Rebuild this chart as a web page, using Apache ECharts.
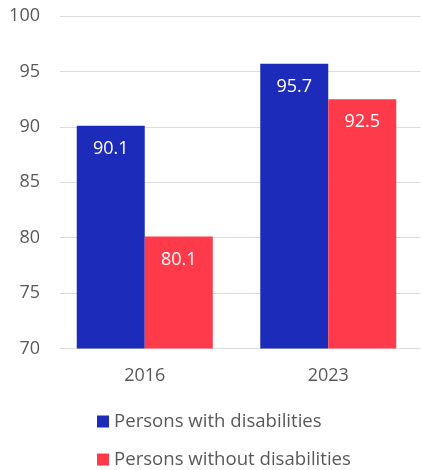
<!DOCTYPE html>
<html>
<head>
<meta charset="utf-8">
<script src="https://cdn.jsdelivr.net/npm/echarts@6/dist/echarts.min.js"></script>
<style>
  html, body { margin: 0; padding: 0; background: #ffffff; }
  #chart { width: 421px; height: 470px; }
</style>
</head>
<body>
<div id="chart"></div>
<script>
// Chart data
const years = ['2016', '2023'];
const withDisabilities = [90.1, 95.7];
const withoutDisabilities = [80.1, 92.5];
const seriesNames = ['Persons with disabilities', 'Persons without disabilities'];
const yTicks = [70, 75, 80, 85, 90, 95, 100];

const FONT = '"Open Sans", "Noto Sans", sans-serif';
const TEXT = '#595959';
const BLUE = '#1d2bba';
const RED = '#ff3b4b';
const FS = 18;

const chart = echarts.init(document.getElementById('chart'), null, { renderer: 'canvas' });

const barLabel = {
  show: true,
  position: 'insideTop',
  distance: 14,
  color: '#ffffff',
  fontFamily: FONT,
  fontSize: FS,
  formatter: p => p.value.toFixed(1)
};

// one legend row per series, stacked vertically
const legendRow = (name, top) => ({
  left: 97,
  top: top,
  itemWidth: 12,
  itemHeight: 12,
  itemGap: 5,
  icon: 'rect',
  padding: 0,
  textStyle: { color: TEXT, fontFamily: FONT, fontSize: 18.6, padding: [0, 0, 0, 0] },
  data: [name]
});

chart.setOption({
  animation: false,
  backgroundColor: '#ffffff',
  grid: [
    // bars
    { left: 53, right: 1, top: 16, bottom: 121.5 },
    // gridlines and value labels
    { left: 60, right: 1, top: 16, bottom: 121.5 }
  ],
  legend: [
    legendRow(seriesNames[0], 412),
    legendRow(seriesNames[1], 450)
  ],
  xAxis: [
    {
      gridIndex: 0,
      type: 'category',
      data: years,
      axisLine: { show: false },
      axisTick: { show: false },
      axisLabel: { color: TEXT, fontFamily: FONT, fontSize: FS, margin: 18 }
    },
    {
      gridIndex: 1,
      type: 'category',
      data: years,
      show: false
    }
  ],
  yAxis: [
    {
      gridIndex: 0,
      type: 'value',
      min: 70, max: 100, interval: 5,
      show: false
    },
    {
      gridIndex: 1,
      type: 'value',
      min: yTicks[0], max: yTicks[yTicks.length - 1], interval: 5,
      axisLine: { show: false },
      axisTick: { show: false },
      splitLine: { show: true, lineStyle: { color: '#dcdcdc', width: 1 } },
      axisLabel: { color: TEXT, fontFamily: FONT, fontSize: FS, margin: 20 }
    }
  ],
  series: [
    {
      name: seriesNames[0],
      type: 'bar',
      xAxisIndex: 0, yAxisIndex: 0,
      data: withDisabilities,
      barWidth: 68,
      barGap: '0%',
      itemStyle: { color: BLUE },
      label: barLabel
    },
    {
      name: seriesNames[1],
      type: 'bar',
      xAxisIndex: 0, yAxisIndex: 0,
      data: withoutDisabilities,
      barWidth: 68,
      barGap: '0%',
      itemStyle: { color: RED },
      label: barLabel
    }
  ]
});
</script>
</body>
</html>
